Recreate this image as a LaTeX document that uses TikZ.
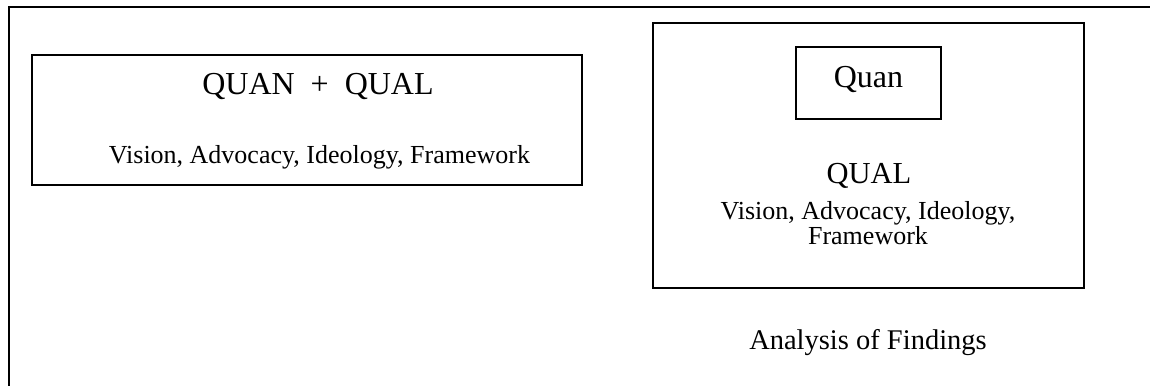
\documentclass[tikz,border=0pt]{standalone}
\usepackage{fontspec}
\setmainfont{Liberation Serif}
\begin{document}
\begin{tikzpicture}[x=1pt,y=-1pt,
  box/.style={draw=black,line width=1.8pt,inner sep=0pt,anchor=center},
  frameline/.style={draw=black,line width=2.2pt},
  big/.style={anchor=base,inner sep=0pt,font=\fontsize{32}{38}\selectfont},
  mid/.style={anchor=base,inner sep=0pt,font=\fontsize{28.5}{34}\selectfont},
  small/.style={anchor=base,inner sep=0pt,font=\fontsize{26}{31}\selectfont}]
\useasboundingbox (0,0) rectangle (1150,386);
% outer frame (top and left sides)
\coordinate (ftr) at (1150,7);
\coordinate (ftl) at (9,7);
\coordinate (fbl) at (9,386);
\draw[frameline] (ftr) -- (ftl) -- (fbl);
% left box: combined design
\node[box,minimum width=550pt,minimum height=130pt] (leftbox) at (307,120) {};
\node[big] (qq) at (318,94) {QUAN\ \ +\ \ QUAL};
\node[small] (vl) at (319.5,163) {Vision, Advocacy, Ideology, Framework};
% right box: embedded design
\node[box,minimum width=431pt,minimum height=265pt] (rightbox) at (868.5,155.5) {};
\node[box,minimum width=145pt,minimum height=72pt] (quanbox) at (868.5,83) {};
\node[big] (quan) at (868.5,87) {Quan};
\node[big,font=\fontsize{30.5}{36}\selectfont] (qual) at (869,183) {QUAL};
\node[small] (vr) at (868,219) {Vision, Advocacy, Ideology,};
\node[small] (fw) at (868,244) {Framework};
\node[mid] (af) at (868,349) {Analysis of Findings};
\end{tikzpicture}
\end{document}
